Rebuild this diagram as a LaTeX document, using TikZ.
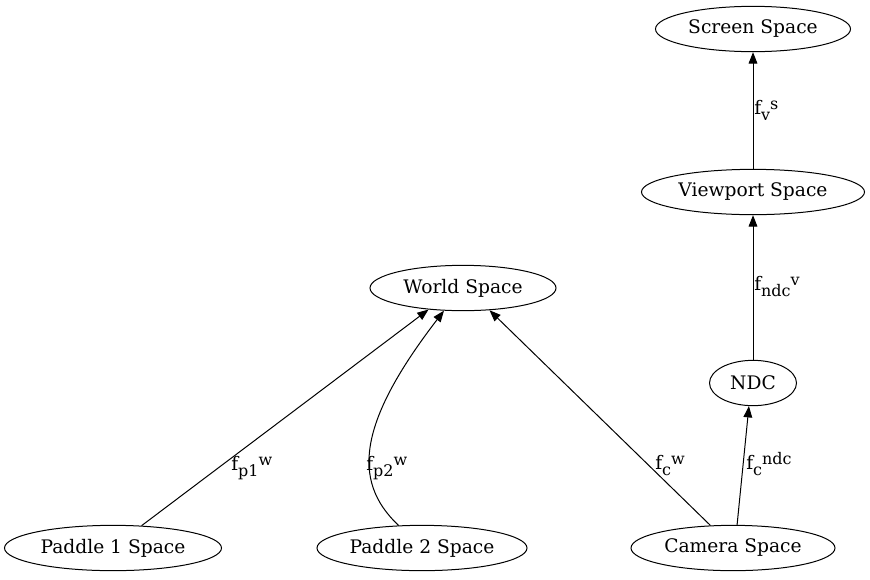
\documentclass[tikz,border=0pt]{standalone}
\usepackage{fontspec}
\setmainfont{DejaVu Serif}
\usetikzlibrary{shapes.geometric,arrows.meta}
\newcommand{\lbl}[3]{#1\raisebox{-5pt}{\fontsize{12pt}{12pt}\selectfont #2}\raisebox{3.5pt}{\fontsize{12pt}{12pt}\selectfont #3}}
\tikzset{
  space/.style={ellipse, draw, line width=0.75pt, inner sep=0pt, minimum height=34pt,
    font=\fontsize{14pt}{16pt}\selectfont},
  conn/.style={line width=0.75pt, -{Triangle[length=8.5pt,width=6.5pt]}},
  elab/.style={anchor=base west, inner sep=0pt, font=\fontsize{14pt}{16pt}\selectfont}
}
\begin{document}
\begin{tikzpicture}[x=0.75pt,y=-0.75pt]
\useasboundingbox (0,0) rectangle (870,579);
\node[space, minimum width=146.25pt] (screen) at (753,29) {Screen Space};
\node[space, minimum width=167.25pt] (viewport) at (753,192) {Viewport Space};
\node[space, minimum width=139.5pt] (world) at (463,288) {World Space};
\node[space, minimum width=65.25pt] (ndc) at (753,383) {NDC};
\node[space, minimum width=162.75pt] (p1) at (113,548) {Paddle 1 Space};
\node[space, minimum width=157.5pt] (p2) at (422,548) {Paddle 2 Space};
\node[space, minimum width=153pt] (camera) at (733,548) {Camera Space};

\draw[conn] (p1.38) -- (world.212);
\draw[conn] (p2.136) .. controls (350,480) and (360,420) .. (world.230);
\draw[conn] (camera.135) -- (world.320);
\draw[conn] (camera.80.5) -- (ndc.260);
\draw[conn] (ndc) -- (viewport);
\draw[conn] (viewport) -- (screen);

\node[elab] (l1) at (231,470) {\lbl{f}{p1}{w}};
\node[elab] (l2) at (366,470) {\lbl{f}{p2}{w}};
\node[elab] (l3) at (655,469) {\lbl{f}{c}{w}};
\node[elab] (l4) at (746,469) {\lbl{f}{c}{ndc}};
\node[elab] (l5) at (754,114) {\lbl{f}{v}{s}};
\node[elab] (l6) at (754,290) {\lbl{f}{ndc}{v}};
\end{tikzpicture}
\end{document}
